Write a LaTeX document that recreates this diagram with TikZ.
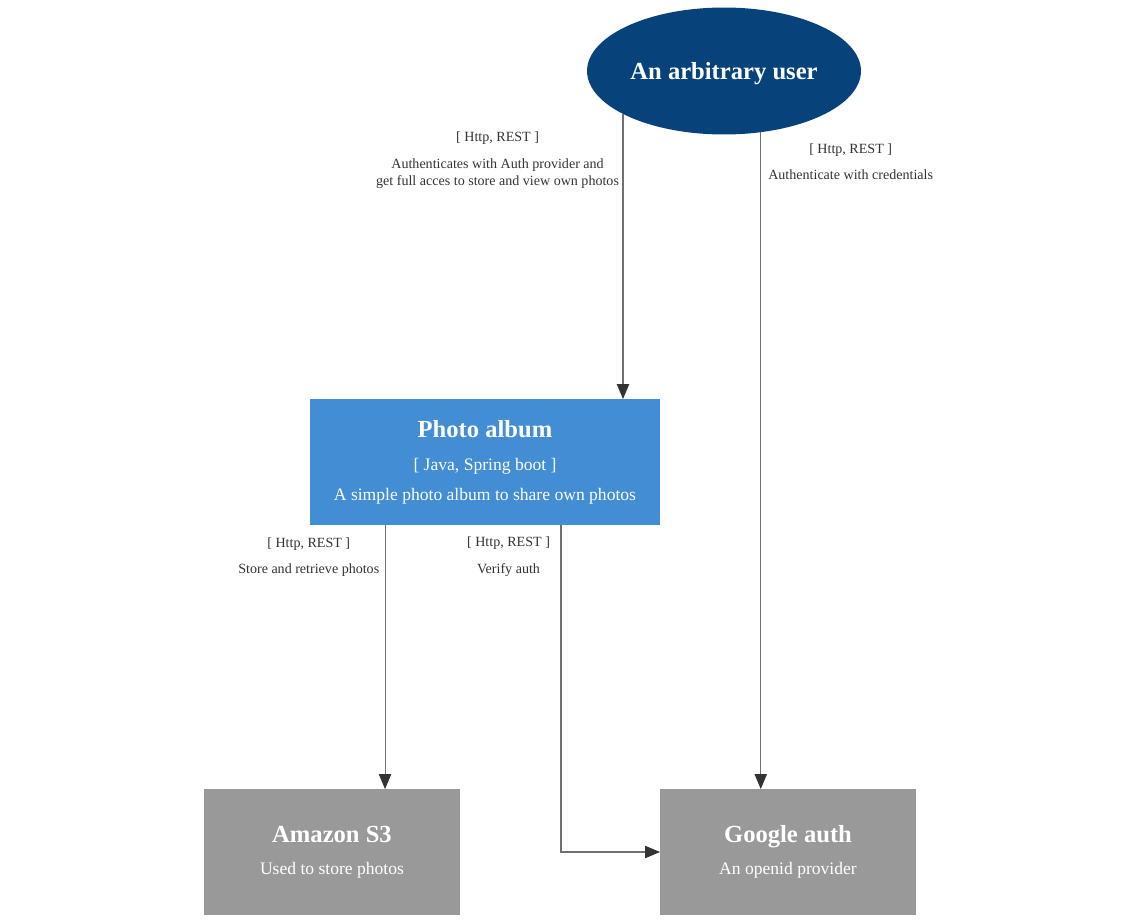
\documentclass[tikz,border=0pt]{standalone}
\usepackage{fontspec}
\setmainfont{Liberation Serif}
\usepackage{xcolor}
\usetikzlibrary{shapes.geometric, arrows.meta, positioning}
\definecolor{personblue}{HTML}{08427B}
\definecolor{systemblue}{HTML}{438DD5}
\definecolor{extgrey}{HTML}{999999}
\definecolor{linegrey}{HTML}{707070}
\definecolor{labelgrey}{HTML}{333333}
\tikzstyle{person} = [
    ellipse,
    minimum width=5.48cm,
    minimum height=2.54cm,
    inner sep=0pt,
    outer sep=0pt,
    text depth=0pt,
    fill=personblue,
    text=white,
    font=\fontsize{14}{16}\selectfont\bfseries
]
\tikzstyle{system} = [
    rectangle,
    minimum width=7cm,
    minimum height=2.52cm,
    outer sep=0pt,
    align=center,
    fill=systemblue,
    text=white,
    font=\fontsize{10}{12}\selectfont
]
\tikzstyle{external} = [
    system,
    minimum width=5.12cm,
    fill=extgrey
]
\tikzstyle{relation} = [
    draw=linegrey,
    line width=0.6pt,
    -{Triangle[length=8.5pt, width=7pt, color=labelgrey]}
]
\tikzstyle{rellabel} = [
    align=center,
    inner sep=2pt,
    text=labelgrey,
    font=\fontsize{8}{9.6}\selectfont
]
\newcommand{\boxtitle}[1]{{\fontsize{14}{16}\selectfont\bfseries #1}}

\begin{document}
\begin{tikzpicture}[x=0.02cm, y=-0.02cm]
        \useasboundingbox (0,0) rectangle (1148,923);
        \node[person] (user) at (724,71) {An arbitrary user};
        \node[system] (album) at (485,462) {\boxtitle{Photo album}\\[7pt]{[ Java, Spring boot ]}\\[5pt]A simple photo album to share own photos};
        \node[external] (s3) at (332,852) {\boxtitle{Amazon S3}\\[6pt]Used to store photos};
        \node[external] (google) at (788,852) {\boxtitle{Google auth}\\[6pt]An openid provider};

        \draw[relation] (user.203.5) -- node[rellabel, pos=0.162, left]{[ Http, REST ]\\[5.5pt]Authenticates with Auth provider and\\get full acces to store and view own photos} (user.203.5 |- album.north);
        \draw[relation] (user.301.2) -- node[rellabel, pos=0.045, right, xshift=2pt]{[ Http, REST ]\\[5.5pt]Authenticate with credentials} (user.301.2 |- google.north);
        \draw[relation] ([xshift=-2cm]album.south) -- node[rellabel, pos=0.121, left, xshift=-1pt]{[ Http, REST ]\\[5.5pt]Store and retrieve photos} ([xshift=-2cm]album.south |- s3.north);
        \draw[relation] ([xshift=1.52cm]album.south) |- node[rellabel, pos=0.0486, left, xshift=-4pt]{[ Http, REST ]\\[5.5pt]Verify auth} (google);
    \end{tikzpicture}
\end{document}
